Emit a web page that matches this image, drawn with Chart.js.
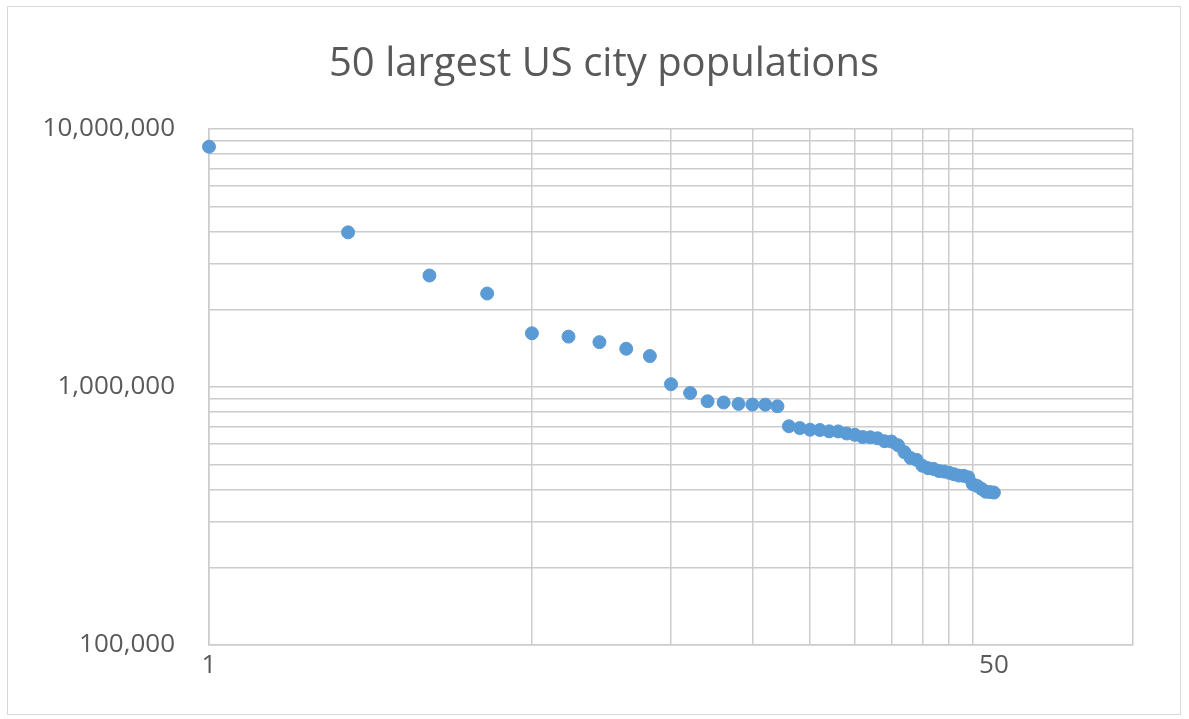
<!DOCTYPE html>
<html>
<head>
<meta charset="utf-8">
<script src="https://cdn.jsdelivr.net/npm/chart.js@4"></script>
<style>
  html, body { margin: 0; padding: 0; background: #ffffff; }
  #wrap { position: relative; width: 1189px; height: 719px; }
  #frame { position: absolute; left: 7px; top: 6px; width: 1174px; height: 709px; border: 1px solid #d9d9d9; box-sizing: border-box; }
  canvas { position: absolute; left: 0; top: 0; }
</style>
</head>
<body>
<div id="wrap">
  <div id="frame"></div>
  <canvas id="popChart" width="1189" height="719"></canvas>
</div>
<script>
// 50 largest US cities, by rank
var ranks = [];
for (var r = 1; r <= 50; r++) ranks.push(r);

var populations = [
  8537673, 3976322, 2704958, 2303482, 1615017, 1567872, 1492510, 1406630, 1317929, 1025350,
  947890, 880619, 870887, 860090, 855164, 854113, 842051, 704352, 693060, 683080,
  681170, 673184, 672795, 660388, 652717, 639863, 638367, 632912, 616261, 614664,
  595047, 559277, 530706, 522053, 495234, 484587, 481420, 472522, 470130, 465101,
  458880, 453579, 452602, 446970, 420005, 413651, 403090, 392772, 391495, 389902
];

// gridline positions seen on the axes
var xTicks = [1, 5, 10, 15, 20, 25, 30, 35, 40, 45, 50, 100];
var xLabels = [1, 50];
var yTicks = [100000, 200000, 300000, 400000, 500000, 600000, 700000, 800000, 900000,
  1000000, 2000000, 3000000, 4000000, 5000000, 6000000, 7000000, 8000000, 9000000, 10000000];
var yLabels = [100000, 1000000, 10000000];

var titleText = "50 largest US city populations";

var points = [];
for (var i = 0; i < ranks.length; i++) {
  points.push({ x: ranks[i], y: populations[i] });
}

var gridColor = "#cccccc";
var textColor = "#595959";

// title sits a bit right of the plot centre, so draw it by hand
var titlePlugin = {
  id: "excelTitle",
  afterDraw: function (chart) {
    var ctx = chart.ctx;
    ctx.save();
    ctx.font = "40px 'Open Sans'";
    ctx.fillStyle = textColor;
    ctx.textAlign = "center";
    ctx.textBaseline = "alphabetic";
    ctx.fillText(titleText, 604, 76);
    ctx.restore();
  }
};

new Chart(document.getElementById("popChart"), {
  type: "scatter",
  data: {
    datasets: [{
      label: "Population",
      data: points,
      backgroundColor: "#5b9bd5",
      borderColor: "#5b9bd5",
      pointRadius: 6.5,
      pointBorderWidth: 1,
      clip: false
    }]
  },
  options: {
    responsive: false,
    animation: false,
    layout: { padding: { left: 0, right: 56, top: 129, bottom: 0 } },
    plugins: {
      legend: { display: false },
      tooltip: { enabled: false },
      title: { display: false }
    },
    scales: {
      x: {
        type: "logarithmic",
        min: 1,
        max: 100,
        afterBuildTicks: function (scale) {
          scale.ticks = xTicks.map(function (v) { return { value: v }; });
        },
        afterFit: function (scale) { scale.height = 74; },
        ticks: {
          autoSkip: false,
          maxRotation: 0,
          color: textColor,
          padding: 5,
          font: { family: "Open Sans", size: 26 },
          callback: function (v) { return xLabels.indexOf(v) >= 0 ? String(v) : ""; }
        },
        grid: {
          drawTicks: false,
          color: function (ctx) { return ctx.tick && ctx.tick.value === 50 ? "rgba(0,0,0,0)" : gridColor; },
          lineWidth: 1.5
        },
        border: { display: true, color: gridColor, width: 1.5 }
      },
      y: {
        type: "logarithmic",
        min: 100000,
        max: 10000000,
        afterBuildTicks: function (scale) {
          scale.ticks = yTicks.map(function (v) { return { value: v }; });
        },
        afterFit: function (scale) { scale.width = 209; },
        ticks: {
          autoSkip: false,
          color: textColor,
          padding: 34,
          font: { family: "Open Sans", size: 26 },
          callback: function (v) { return yLabels.indexOf(v) >= 0 ? v.toLocaleString("en-US") : ""; }
        },
        grid: { drawTicks: false, color: gridColor, lineWidth: 1.5 },
        border: { display: true, color: gridColor, width: 1.5 }
      }
    }
  },
  plugins: [titlePlugin]
});
</script>
</body>
</html>
